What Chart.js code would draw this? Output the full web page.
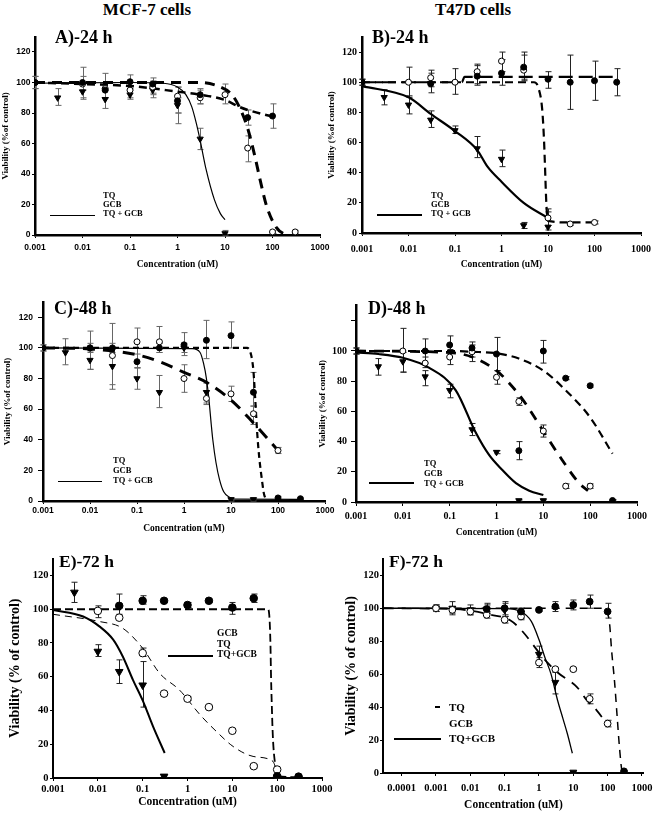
<!DOCTYPE html>
<html>
<head>
<meta charset="utf-8">
<script src="https://cdn.jsdelivr.net/npm/chart.js@4.4.1/dist/chart.umd.min.js"></script>
<style>
body { margin: 0; background: #fff; width: 658px; height: 817px; position: relative; overflow: hidden; font-family: "Liberation Serif", serif; }
canvas { position: absolute; }
.t { position: absolute; white-space: nowrap; font-weight: bold; line-height: 1; color: #000; }
.ln { position: absolute; background: #000; }
</style>
</head>
<body>
<div class="t" style="left:147px;top:1px;font-size:17px;transform:translateX(-50%)">MCF-7 cells</div>
<div class="t" style="left:473px;top:1px;font-size:17px;transform:translateX(-50%)">T47D cells</div>

<canvas id="cA"></canvas>
<canvas id="cB"></canvas>
<canvas id="cC"></canvas>
<canvas id="cD"></canvas>
<canvas id="cE"></canvas>
<canvas id="cF"></canvas>

<div class="t" style="left:55px;top:28px;font-size:18px">A)-24 h</div>
<div class="t" style="left:372px;top:28px;font-size:18px">B)-24 h</div>
<div class="t" style="left:54px;top:299px;font-size:18px">C)-48 h</div>
<div class="t" style="left:368px;top:299px;font-size:18px">D)-48 h</div>
<div class="t" style="left:59px;top:553px;font-size:17.5px">E)-72 h</div>
<div class="t" style="left:389px;top:553px;font-size:17.5px">F)-72 h</div>

<!-- legends -->
<div class="t" style="left:103px;top:191px;font-size:8.5px">TQ</div>
<div class="t" style="left:103px;top:200px;font-size:8.5px">GCB</div>
<div class="t" style="left:103px;top:209px;font-size:8.5px">TQ + GCB</div>
<div class="ln" style="left:50px;top:214.5px;width:45px;height:1.2px"></div>

<div class="t" style="left:431px;top:191px;font-size:8.5px">TQ</div>
<div class="t" style="left:431px;top:200px;font-size:8.5px">GCB</div>
<div class="t" style="left:431px;top:209px;font-size:8.5px">TQ + GCB</div>
<div class="ln" style="left:377px;top:214px;width:45px;height:2.2px"></div>

<div class="t" style="left:113px;top:456px;font-size:8.5px">TQ</div>
<div class="t" style="left:113px;top:466px;font-size:8.5px">GCB</div>
<div class="t" style="left:113px;top:476px;font-size:8.5px">TQ + GCB</div>
<div class="ln" style="left:58px;top:480.5px;width:44px;height:1.2px"></div>

<div class="t" style="left:424px;top:459px;font-size:8.5px">TQ</div>
<div class="t" style="left:424px;top:469px;font-size:8.5px">GCB</div>
<div class="t" style="left:424px;top:479px;font-size:8.5px">TQ + GCB</div>
<div class="ln" style="left:369px;top:482px;width:45px;height:2.2px"></div>

<div class="t" style="left:217px;top:629px;font-size:9.5px">GCB</div>
<div class="t" style="left:217px;top:640px;font-size:9.5px">TQ</div>
<div class="t" style="left:217px;top:650px;font-size:9.5px">TQ+GCB</div>
<div class="ln" style="left:168px;top:655px;width:45px;height:2px"></div>

<div class="t" style="left:449px;top:702px;font-size:11px">TQ</div>
<div class="t" style="left:449px;top:718px;font-size:11px">GCB</div>
<div class="t" style="left:449px;top:733px;font-size:11px">TQ+GCB</div>
<div class="ln" style="left:435px;top:706px;width:5px;height:2px"></div>
<div class="ln" style="left:394px;top:738px;width:47px;height:1.5px"></div>

<script>
// tick values
const xDecades = [0.001, 0.01, 0.1, 1, 10, 100, 1000];
const xDecadesF = [0.0001, 0.001, 0.01, 0.1, 1, 10, 100, 1000];
const yTicks = [0, 20, 40, 60, 80, 100, 120];

// rows: [concentration uM, viability %, error low, error high]
// A) MCF-7 24 h
const mcf24TQ = [[0.001,100,96,104],[0.01,100,90,110],[0.03,95,90,100],[0.1,100.5,95,105],[0.3,99,93,103],[1,88,73,97],[3,92,86,96],[30,77,72,82],[100,78,70,86]];
const mcf24GCB = [[0.001,100,96,104],[0.01,99,95,104],[0.03,96,90,106],[0.1,95,90,100],[0.3,97,92,101],[1,91,80,97],[3,90,86,95],[10,92,86,99],[30,57,48,65],[100,2,1,3],[300,2,1,3]];
const mcf24Mix = [[0.003,90,85,96],[0.01,94,89,99],[0.03,89,83,95],[0.1,92,89,96],[0.3,95,90,99],[1,85,80,90],[3,63,56,70],[10,1,0,3]];
const mcf24TQFit = [[0.001,100],[0.01,99],[0.1,97.7],[1,94],[3,92],[10,88.5],[20,84],[30,82],[100,77.6]];
const mcf24GCBFit = [[0.001,100],[3,100],[8,97],[14,92],[20,84],[30,70],[43,51],[55,36],[75,19],[120,5],[170,1],[220,0.5]];
const mcf24MixFit = [[0.001,99.5],[0.1,100],[0.5,99.5],[1,97],[1.5,92],[2,84],[2.5,73],[3,62],[4,43],[6,23],[8,14],[10,10]];

// B) T47D 24 h
const t47d24TQ = [[0.001,100,98,102],[0.03,99,93,106],[0.3,104,98,112],[1,106,98,115],[3,110,102,120],[10,102,96,107],[30,100,82,118],[100,101,88,114],[300,100,91,109]];
const t47d24GCB = [[0.001,100,98,102],[0.01,100,90,110],[0.03,103,97,108],[0.1,100,92,109],[0.3,107,99,111],[1,114,107,120],[3,108,101,118],[10,10,5,16],[30,6,5,7],[100,7,6,8]];
const t47d24Mix = [[0.003,90,85,95],[0.01,85,79,91],[0.03,75,70,81],[0.1,68,66,71],[0.3,56,50,64],[1,49,44,55],[3,5,3,7],[10,4,2,14]];
const t47d24TQFit = [[0.001,100],[0.14,100],[0.16,103.5],[300,103.5]];
const t47d24GCBFit = [[0.001,100],[5,100],[6.1,97],[7.5,82],[8.2,62],[8.6,45],[9.2,20],[10,8],[30,7],[100,7]];
const t47d24MixFit = [[0.001,97.4],[0.01,90],[0.03,79],[0.1,67.6],[0.3,55],[0.5,44],[1,34],[3,20],[10,10]];

// C) MCF-7 48 h
const mcf48TQ = [[0.001,100,98,102],[0.01,100,97,103],[0.03,100,97,103],[0.1,91,87,96],[0.3,100,97,103],[1,102,95,110],[3,105,93,118],[10,108,100,117],[30,71,62,84],[100,2,1,3],[300,1.5,1,2]];
const mcf48GCB = [[0.001,100,98,102],[0.01,100,86,111],[0.03,95,76,116],[0.1,104,87,113],[0.3,104,97,114],[1,80,71,89],[3,67,63,72],[10,70,65,75],[30,57,50,62],[100,33,31,35]];
const mcf48Mix = [[0.003,97,89,106],[0.01,92,86,98],[0.03,88,73,100],[0.1,80,73,87],[0.3,71,61,82],[1,100,97,103],[3,71,64,77],[10,1,0,2],[30,1,0,2]];
const mcf48TQFit = [[0.001,100],[22,100],[27,95],[30,85],[33,65],[36,45],[40,28],[45,15],[50,5],[55,1]];
const mcf48GCBFit = [[0.001,100],[0.01,99.3],[0.1,95.5],[0.3,91],[1,84],[3,77.5],[10,66],[30,51],[100,33]];
const mcf48MixFit = [[0.001,100],[1.5,99.5],[2.2,97],[2.6,90],[3,80],[3.4,66],[3.8,50],[4.1,40],[4.8,25],[5.7,14],[7,6],[9.3,2.5],[12,1.2],[300,1]];

// D) T47D 48 h
const t47d48TQ = [[0.001,100,98,102],[0.03,100,92,108],[0.1,104,99,110],[0.3,102,93,106],[1,98,87,109],[3,34,28,40],[10,100,92,107],[30,82,81,83],[100,77,76,78],[300,1,0.5,1.5]];
const t47d48GCB = [[0.001,100,98,102],[0.01,100,86,115],[0.03,92,89,96],[0.1,96,91,101],[0.3,99.5,96,104],[1,82.6,78,87],[3,66.6,64,69],[10,47,43,51],[30,10.5,9,12],[100,10.5,9,12]];
const t47d48Mix = [[0.003,89.7,84,95],[0.01,93,86,99],[0.03,83,77,87],[0.1,74,69,78],[0.3,48,44,52],[1,33,32,34],[3,1,0.5,1.5],[10,1,0.5,1.5]];
const t47d48TQFit = [[0.001,100],[0.1,100],[0.3,99.5],[1,98.5],[3,95],[10,87],[30,74],[100,56],[300,32]];
const t47d48GCBFit = [[0.001,100],[0.1,99],[0.3,96],[1,87],[1.6,81],[3.6,68],[9.5,48],[25,28],[60,12],[90,7.5]];
const t47d48MixFit = [[0.001,99],[0.003,98],[0.01,95.5],[0.036,89],[0.135,74],[0.36,46],[0.7,31],[1.35,21],[2.6,12.5],[5,7.5],[10,4.6]];

// E) MCF-7 72 h
const mcf72TQ = [[0.03,102,96,109],[0.1,105,103,108],[0.3,105,104,106],[1,102.5,101,104],[3,105,104,106],[10,101,97,104],[30,106.5,104,109],[100,1,0.5,1.5],[300,0.8,0.5,1.1]];
const mcf72GCB = [[0.01,99,95,102],[0.03,95,94,97],[0.1,74,72,77],[0.3,50,49,51],[1,47,46,48],[3,42,41,43],[10,28,27,29],[30,7,6,8],[100,5,4,6]];
const mcf72Mix = [[0.003,110,104,116],[0.01,75,72,79],[0.03,63,56,70],[0.1,55,42,69],[0.3,1,0.5,1.5],[100,0.5,0,1]];
const mcf72TQFit = [[0.001,100],[63,100],[68,93],[71,78],[73,60],[75,48],[80,25],[90,8],[100,1],[300,0.5]];
const mcf72GCBFit = [[0.001,97],[0.011,92.7],[0.036,88.7],[0.1,76.9],[0.24,62],[0.67,52],[1.9,37.5],[4.4,27.6],[10.4,18.7],[29,12.8],[81,9.8],[90,7]];
const mcf72MixFit = [[0.001,99.6],[0.0047,95.7],[0.011,89.7],[0.022,82],[0.036,72],[0.061,58],[0.1,46],[0.17,30.6],[0.31,14.8]];

// F) T47D 72 h
const t47d72TQ = [[0.03,99.5,97,103],[0.1,100,96,104],[0.3,98,96,100],[1,99,98,100],[3,101,98,104],[10,102,99,105],[30,104,100,108],[100,98,94,103],[300,1,0.5,1.5]];
const t47d72GCB = [[0.001,100,98,102],[0.003,99,97,101],[0.01,98,96,100],[0.03,96,94,98],[0.1,93,91,95],[0.3,95,93,97],[1,67,64,70],[3,63,62,64],[10,63,62,64],[30,45,42,48],[100,30,28,32]];
const t47d72Mix = [[0.001,100,98,102],[0.003,100,96,104],[0.01,99,96,102],[0.03,99.5,97,102],[0.1,99,95,103],[0.3,97,94,100],[1,72,68,77],[3,55,48,61],[10,0.5,0,1]];
const t47d72TQFit = [[0.00003,100],[75,100],[100,97],[115,90],[130,75],[160,55],[190,34],[225,14],[260,2],[300,0.5]];
const t47d72GCBFit = [[0.00003,100],[0.003,99.5],[0.01,98.5],[0.03,96.5],[0.145,92.7],[0.31,86.6],[1.45,69],[3.5,61],[13,52],[25,44],[48,38],[94,30]];
const t47d72MixFit = [[0.00003,100],[0.1,99.8],[0.3,98],[0.6,92],[1,81],[1.5,70],[2.25,60],[3.5,44],[5,33],[6.7,24],[9.4,12]];

// draws the vertical error bars with small caps
const errorBars = {
    id: 'errorBars',
    beforeDatasetsDraw(chart) {
        const ctx = chart.ctx;
        const xs = chart.scales.x, ys = chart.scales.y;
        chart.data.datasets.forEach(ds => {
            if (!ds.err) return;
            ctx.save();
            ctx.strokeStyle = ds.errColor;
            ctx.lineWidth = 1;
            ds.err.forEach((e, i) => {
                const px = Math.round(xs.getPixelForValue(ds.data[i].x)) + 0.5;
                const lo = ys.getPixelForValue(e[0]);
                const hi = ys.getPixelForValue(e[1]);
                ctx.beginPath();
                ctx.moveTo(px, lo); ctx.lineTo(px, hi);
                ctx.moveTo(px - 3, lo); ctx.lineTo(px + 3, lo);
                ctx.moveTo(px - 3, hi); ctx.lineTo(px + 3, hi);
                ctx.stroke();
            });
            ctx.restore();
        });
    }
};

function fitLine(rows, width, dash) {
    return {
        data: rows.map(r => ({x: r[0], y: r[1]})),
        showLine: true,
        pointRadius: 0,
        borderColor: '#000',
        borderWidth: width,
        borderDash: dash,
        cubicInterpolationMode: 'monotone',
        order: 2
    };
}

function marks(rows, kind, r, errColor) {
    return {
        data: rows.map(q => ({x: q[0], y: q[1]})),
        err: rows.map(q => [q[2], q[3]]),
        errColor: errColor,
        showLine: false,
        pointStyle: kind === 'tri' ? 'triangle' : 'circle',
        pointRotation: kind === 'tri' ? 180 : 0,
        pointRadius: kind === 'tri' ? r + 0.6 : r,
        pointBackgroundColor: kind === 'open' ? '#fff' : '#000',
        pointBorderColor: '#000',
        pointBorderWidth: 1,
        order: 1
    };
}

function panel(id, p) {
    const cv = document.getElementById(id);
    const c = p.canvas;
    cv.style.left = c[0] + 'px';
    cv.style.top = c[1] + 'px';
    cv.width = c[2];
    cv.height = c[3];
    const ylh = p.yTitleSize * 1.2, xlh = p.xTitleSize * 1.2;
    const yLeft = p.yTitleX - ylh / 2;
    const yW = p.plot[0] - yLeft;
    const xH = p.xTitleY + xlh / 2 - p.plot[3];
    const tickFont = {family: p.tickFamily, size: p.tickSize, weight: 'bold'};
    const titleFont = s => ({family: 'Liberation Serif', size: s, weight: 'bold'});

    return new Chart(cv, {
        type: 'scatter',
        data: {datasets: p.datasets},
        options: {
            responsive: false,
            animation: false,
            devicePixelRatio: 1,
            layout: {padding: {
                left: yLeft - c[0],
                top: p.plot[2] - c[1],
                right: c[0] + c[2] - p.plot[1],
                bottom: c[1] + c[3] - p.plot[3] - xH
            }},
            plugins: {legend: {display: false}, tooltip: {enabled: false}},
            scales: {
                x: {
                    type: 'logarithmic',
                    min: p.xMin,
                    max: p.xMax,
                    afterBuildTicks: s => { s.ticks = p.xTicks.map(v => ({value: v})); },
                    afterFit: s => { s.height = xH; },
                    border: {display: true, color: '#000', width: p.axisW},
                    grid: {drawOnChartArea: false, drawTicks: true, tickLength: p.xTick[0], tickColor: '#000', color: '#000'},
                    ticks: {autoSkip: false, maxRotation: 0, padding: p.xTick[1], color: '#000', font: tickFont,
                        callback: v => String(v)},
                    title: {display: true, text: 'Concentration (uM)', color: '#000', padding: 0, font: titleFont(p.xTitleSize)}
                },
                y: {
                    type: 'linear',
                    min: 0,
                    max: 130,
                    afterBuildTicks: s => { s.ticks = yTicks.map(v => ({value: v})); },
                    afterFit: s => { s.width = yW; },
                    border: {display: true, color: '#000', width: p.axisW},
                    grid: {drawOnChartArea: false, drawTicks: true, tickLength: p.yTick[0], tickColor: '#000', color: '#000'},
                    ticks: {padding: p.yTick[1], color: '#000', font: tickFont,
                        callback: v => (p.hideY && p.hideY.includes(v)) ? '' : String(v)},
                    title: {display: true, text: p.yTitle, color: '#000', padding: 0, font: titleFont(p.yTitleSize)}
                }
            }
        },
        plugins: [errorBars]
    });
}

const smallY = 'Viability (%of control)';
const bigY = 'Viability (% of control)';

panel('cA', {
    canvas: [0, 20, 340, 260], plot: [35, 320, 36.75, 235],
    xMin: 0.001, xMax: 1000, xTicks: xDecades,
    yTitle: smallY, yTitleX: 6, yTitleSize: 9, xTitleY: 265, xTitleSize: 9.5,
    tickFamily: 'Liberation Sans', tickSize: 8.5, xTick: [3, 5], yTick: [3, 1.5], axisW: 2.5,
    datasets: [
        fitLine(mcf24TQFit, 2.5, [8, 5]),
        fitLine(mcf24GCBFit, 3, [10, 7]),
        fitLine(mcf24MixFit, 1.2, []),
        marks(mcf24TQ, 'fill', 3, '#666'),
        marks(mcf24GCB, 'open', 3, '#666'),
        marks(mcf24Mix, 'tri', 3, '#666')
    ]
});

panel('cB', {
    canvas: [310, 20, 348, 260], plot: [362, 642, 37, 233],
    xMin: 0.001, xMax: 1000, xTicks: xDecades,
    yTitle: smallY, yTitleX: 332, yTitleSize: 9, xTitleY: 265, xTitleSize: 9.5,
    tickFamily: 'Liberation Serif', tickSize: 10, xTick: [3, 7], yTick: [3, 2], axisW: 2.5,
    datasets: [
        fitLine(t47d24TQFit, 2.2, [14, 6]),
        fitLine(t47d24GCBFit, 2.2, [8, 5]),
        fitLine(t47d24MixFit, 2.2, []),
        marks(t47d24TQ, 'fill', 3, '#222'),
        marks(t47d24GCB, 'open', 3, '#222'),
        marks(t47d24Mix, 'tri', 3, '#222')
    ]
});

panel('cC', {
    canvas: [0, 280, 340, 265], plot: [43, 325, 302, 501],
    xMin: 0.001, xMax: 1000, xTicks: xDecades,
    yTitle: smallY, yTitleX: 8, yTitleSize: 9, xTitleY: 529, xTitleSize: 9.5,
    tickFamily: 'Liberation Sans', tickSize: 8.5, xTick: [3, 2], yTick: [5, 5], axisW: 2.5,
    datasets: [
        fitLine(mcf48TQFit, 2.2, [6, 4]),
        fitLine(mcf48GCBFit, 3, [12, 8]),
        fitLine(mcf48MixFit, 1.2, []),
        marks(mcf48TQ, 'fill', 3, '#666'),
        marks(mcf48GCB, 'open', 3, '#666'),
        marks(mcf48Mix, 'tri', 3, '#666')
    ]
});

panel('cD', {
    canvas: [310, 280, 348, 265], plot: [356, 637, 305.7, 502],
    xMin: 0.001, xMax: 1000, xTicks: xDecades, hideY: [120],
    yTitle: smallY, yTitleX: 323, yTitleSize: 9, xTitleY: 533, xTitleSize: 9.5,
    tickFamily: 'Liberation Serif', tickSize: 10, xTick: [4, 4], yTick: [5, 4], axisW: 2.5,
    datasets: [
        fitLine(t47d48TQFit, 2.2, [8, 5]),
        fitLine(t47d48GCBFit, 2.8, [10, 8]),
        fitLine(t47d48MixFit, 2.2, []),
        marks(t47d48TQ, 'fill', 3, '#222'),
        marks(t47d48GCB, 'open', 3, '#222'),
        marks(t47d48Mix, 'tri', 3, '#222')
    ]
});

panel('cE', {
    canvas: [0, 540, 340, 277], plot: [53, 322, 558.6, 778],
    xMin: 0.001, xMax: 1000, xTicks: xDecades,
    yTitle: bigY, yTitleX: 15, yTitleSize: 14, xTitleY: 802, xTitleSize: 11.5,
    tickFamily: 'Liberation Serif', tickSize: 10.5, xTick: [3, 1.5], yTick: [3, 1.5], axisW: 2,
    datasets: [
        fitLine(mcf72TQFit, 1.8, [8, 4]),
        fitLine(mcf72GCBFit, 1, [7, 5]),
        fitLine(mcf72MixFit, 2, []),
        marks(mcf72TQ, 'fill', 3.8, '#222'),
        marks(mcf72GCB, 'open', 3.8, '#222'),
        marks(mcf72Mix, 'tri', 3.8, '#222')
    ]
});

panel('cF', {
    canvas: [310, 540, 348, 277], plot: [383, 649, 558.8, 773],
    xMin: Math.pow(10, -4.543), xMax: Math.pow(10, 3.057), xTicks: xDecadesF,
    yTitle: bigY, yTitleX: 351, yTitleSize: 14, xTitleY: 805, xTitleSize: 11.5,
    tickFamily: 'Liberation Serif', tickSize: 10.5, xTick: [3, 5.5], yTick: [3, 1], axisW: 2,
    datasets: [
        fitLine(t47d72TQFit, 1.5, [8, 6]),
        fitLine(t47d72GCBFit, 1.8, [10, 8]),
        fitLine(t47d72MixFit, 1.3, []),
        marks(t47d72TQ, 'fill', 3.4, '#222'),
        marks(t47d72GCB, 'open', 3.4, '#222'),
        marks(t47d72Mix, 'tri', 3.4, '#222')
    ]
});
</script>
</body>
</html>
